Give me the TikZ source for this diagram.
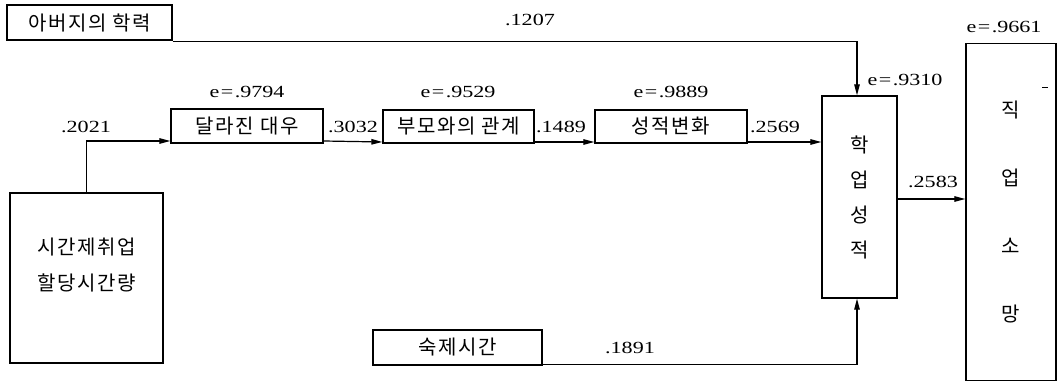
\documentclass[tikz,border=0pt]{standalone}
\usepackage{fontspec}
\setmainfont[FakeStretch=1.3]{Liberation Serif}
\newfontfamily\kr[LetterSpace=8]{Noto Sans CJK KR}
\usetikzlibrary{arrows.meta}
\newcommand{\eq}{\kern1.5pt=\kern1.5pt}
\begin{document}
\begin{tikzpicture}[x=1pt,y=-1pt,
  box/.style={draw,line width=1.3pt,inner sep=0pt,font=\kr\fontsize{20}{24}\selectfont},
  ktext/.style={inner sep=0pt,align=center,font=\kr\fontsize{20}{36}\selectfont},
  num/.style={font=\fontsize{17}{19}\selectfont,inner sep=0pt},
  arr/.style={line width=1.2pt,-{Triangle[length=11pt,width=5.5pt]}},
  ln/.style={line width=1.2pt}]
\useasboundingbox (0,0) rectangle (1060,382);
% boxes
\node[box,minimum width=165pt,minimum height=35pt] (father) at (89.5,22.5) {아버지의 학력};
\node[box,minimum width=153pt,minimum height=170pt] (parttime) at (86.5,278) {};
\node[ktext] (pttext) at (86.5,265) {시간제취업\\할당시간량};
\node[box,minimum width=152pt,minimum height=34pt] (treat) at (247,126) {달라진 대우};
\node[box,minimum width=151pt,minimum height=33pt] (parent) at (458.5,126.5) {부모와의 관계};
\node[box,minimum width=152pt,minimum height=33pt] (grade) at (671,126.5) {성적변화};
\node[box,minimum width=75pt,minimum height=202pt] (acad) at (859.5,197) {};
\node[ktext,font=\kr\fontsize{20}{35}\selectfont] (acadtext) at (859.5,197) {학\\업\\성\\적};
\node[box,minimum width=90pt,minimum height=337pt] (job) at (1011,212) {};
\node[ktext,font=\kr\fontsize{20}{68}\selectfont] (jobtext) at (1011,212) {직\\업\\소\\망};
\node[box,minimum width=169pt,minimum height=35pt] (hw) at (457.5,347.5) {숙제시간};
% connectors
\draw[arr] ([yshift=-1pt]father.south east) -| ([xshift=-2.5pt]acad.north);
\draw[arr] (parttime.north) |- ([yshift=-15pt]treat.west);
\draw[arr] ([yshift=-15pt]treat.east) -- ([yshift=-15.5pt]parent.west);
\draw[arr] ([yshift=-15.5pt]parent.east) -- ([yshift=-15.5pt]grade.west);
\draw[arr] ([yshift=-15.5pt]grade.east) -- (acad.west |- 0,142);
\draw[arr] (acad.east |- 0,199) -- (job.west |- 0,199);
\draw[arr] ([yshift=1.5pt]hw.south east) -| ([xshift=-2.5pt]acad.south);
% labels
\node[num] (l1207) at (530,20) {.1207};
\node[num] (l2021) at (86,127) {.2021};
\node[num] (e9794) at (247,92) {e\eq.9794};
\node[num] (l3032) at (353,127) {.3032};
\node[num] (e9529) at (458,92) {e\eq.9529};
\node[num] (l1489) at (561,127) {.1489};
\node[num] (e9889) at (671,92) {e\eq.9889};
\node[num] (l2569) at (775,127) {.2569};
\node[num] (e9310) at (905,80) {e\eq.9310};
\node[num] (e9661) at (1004,27) {e\eq.9661};
\node[num] (l2583) at (933,182) {.2583};
\node[num] (l1891) at (630,348) {.1891};
\draw[line width=0.8pt] (1042,87) -- (1048,87);
\end{tikzpicture}
\end{document}
